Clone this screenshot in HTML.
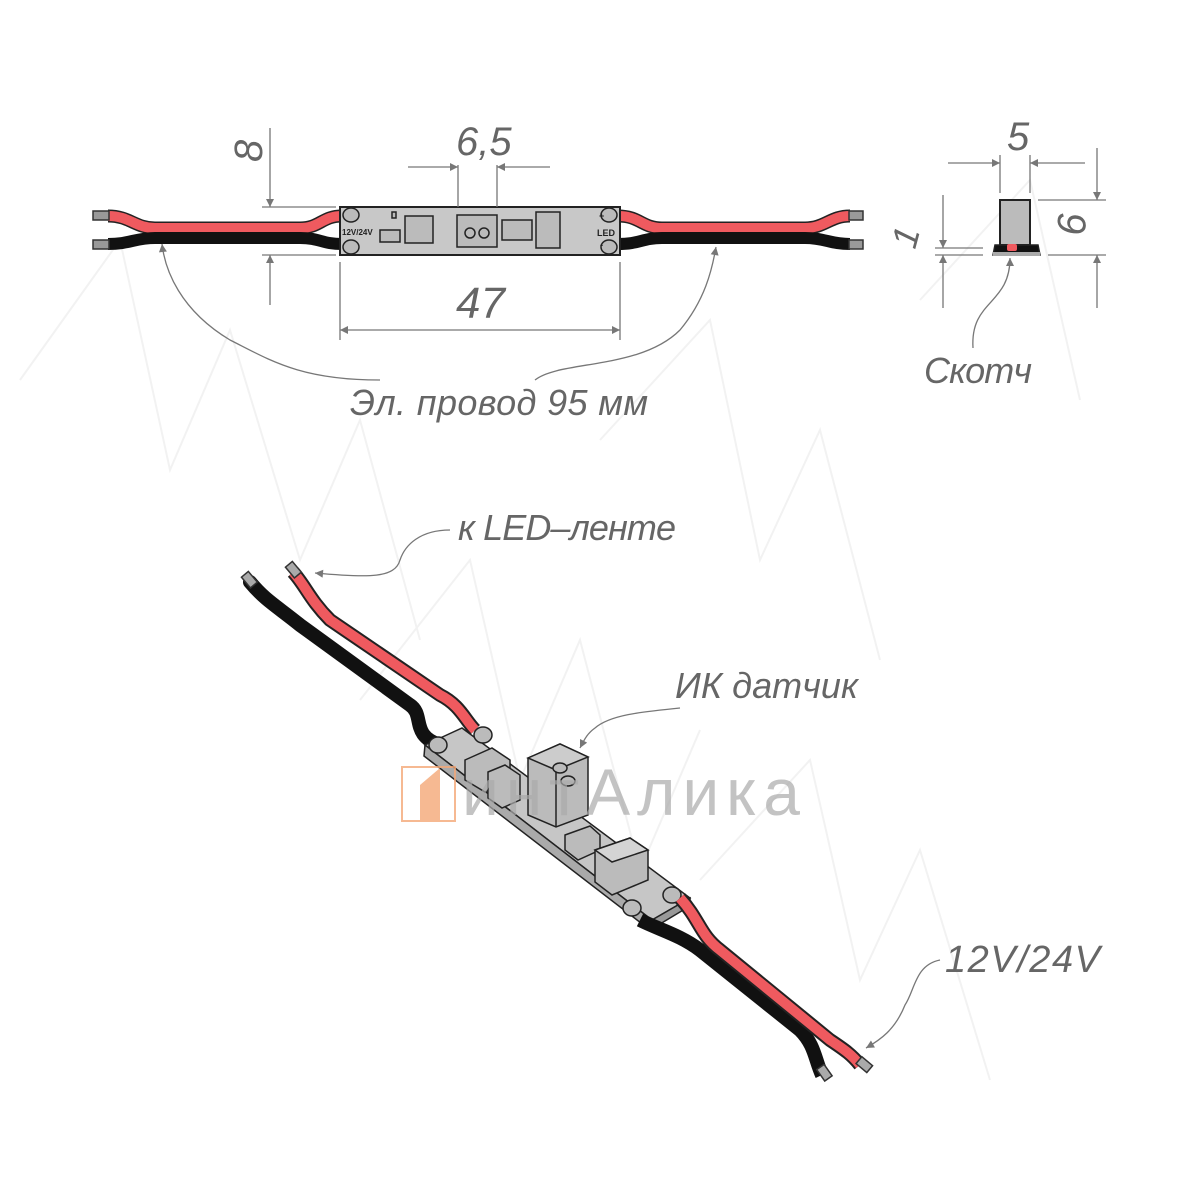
<!DOCTYPE html>
<html><head><meta charset="utf-8"><style>
html,body{margin:0;padding:0;background:#fff;}
svg{display:block;}
text{font-family:"Liberation Sans",sans-serif;font-style:italic;fill:#666;}
</style></head><body>
<svg width="1200" height="1200" viewBox="0 0 1200 1200" xmlns="http://www.w3.org/2000/svg">
<defs>
<marker id="ar" viewBox="0 0 10 10" refX="10" refY="5" markerWidth="14" markerHeight="8" orient="auto-start-reverse" markerUnits="userSpaceOnUse"><path d="M0,0 L10,5 L0,10 z" fill="#777"/></marker>
</defs>
<g stroke="#f2f2f2" stroke-width="2" fill="none">
<path d="M20,380 L120,240 L170,470 L230,330 L300,560 L360,420 L420,640"/>
<path d="M600,440 L710,320 L760,560 L820,430 L880,660"/>
<path d="M360,700 L470,560 L520,780 L580,640 L640,870 L700,730"/>
<path d="M700,880 L810,760 L860,980 L920,850 L990,1080"/>
<path d="M920,300 L1030,180 L1080,400"/>
</g>

<!-- ===== TOP VIEW ===== -->
<path d="M108,216 C130,216 135,228 155,228 L300,228 C320,228 322,216 342,216" stroke="#222" stroke-width="13" fill="none"/>
<path d="M108,216 C130,216 135,228 155,228 L300,228 C320,228 322,216 342,216" stroke="#ef5a5f" stroke-width="10" fill="none"/>
<path d="M108,244 C130,244 135,238 155,238 L300,238 C320,238 322,244 342,244" stroke="#111" stroke-width="12" fill="none"/>
<rect x="93" y="211" width="16" height="9" fill="#999" stroke="#333" stroke-width="1.5"/>
<rect x="93" y="240" width="16" height="9" fill="#999" stroke="#333" stroke-width="1.5"/>
<path d="M618,216 C640,216 642,228 662,228 L805,228 C825,228 830,216 850,216" stroke="#222" stroke-width="13" fill="none"/>
<path d="M618,216 C640,216 642,228 662,228 L805,228 C825,228 830,216 850,216" stroke="#ef5a5f" stroke-width="10" fill="none"/>
<path d="M618,244 C640,244 642,238 662,238 L805,238 C825,238 830,244 850,244" stroke="#111" stroke-width="12" fill="none"/>
<rect x="849" y="211" width="14" height="9" fill="#999" stroke="#333" stroke-width="1.5"/>
<rect x="849" y="240" width="14" height="9" fill="#999" stroke="#333" stroke-width="1.5"/>
<rect x="340" y="207" width="280" height="48" fill="#c8c8c8" stroke="#222" stroke-width="2"/>
<g fill="#bbb" stroke="#222" stroke-width="1.5">
<ellipse cx="351" cy="215" rx="8" ry="7"/><ellipse cx="351" cy="247" rx="8" ry="7"/>
<ellipse cx="609" cy="215" rx="8" ry="7"/><ellipse cx="609" cy="247" rx="8" ry="7"/>
<rect x="380" y="230" width="20" height="12"/><rect x="405" y="216" width="28" height="27"/>
<rect x="392" y="212" width="4" height="6"/>
<rect x="457" y="215" width="40" height="32"/><rect x="502" y="220" width="30" height="20"/>
<rect x="536" y="212" width="24" height="36"/>
<circle cx="470" cy="233" r="5"/><circle cx="484" cy="233" r="5"/>
</g>
<text x="342" y="235" font-size="8" style="font-style:normal;font-weight:bold;fill:#222">12V/24V</text>
<text x="597" y="236" font-size="9" style="font-style:normal;font-weight:bold;fill:#222">LED</text>
<text x="599" y="219" font-size="9" style="font-style:normal;font-weight:bold;fill:#222">+</text>
<text x="600" y="248" font-size="9" style="font-style:normal;font-weight:bold;fill:#222">-</text>
<g stroke="#777" stroke-width="1.3" fill="none">
<line x1="262" y1="207" x2="336" y2="207"/><line x1="262" y1="255" x2="336" y2="255"/>
<line x1="270" y1="128" x2="270" y2="207" marker-end="url(#ar)"/>
<line x1="270" y1="305" x2="270" y2="255" marker-end="url(#ar)"/>
<line x1="458" y1="165" x2="458" y2="207"/><line x1="497" y1="165" x2="497" y2="207"/>
<line x1="408" y1="167" x2="458" y2="167" marker-end="url(#ar)"/>
<line x1="550" y1="167" x2="497" y2="167" marker-end="url(#ar)"/>
<line x1="340" y1="262" x2="340" y2="340"/><line x1="620" y1="262" x2="620" y2="340"/>
<line x1="340" y1="330" x2="620" y2="330" marker-start="url(#ar)" marker-end="url(#ar)"/>
<path d="M380,380 C300,380 270,360 230,340 C180,310 165,270 162,244" marker-end="url(#ar)"/>
<path d="M535,380 C560,360 640,370 680,330 C705,300 712,270 716,247" marker-end="url(#ar)"/>
</g>
<text x="0" y="0" font-size="40" transform="translate(262,162) rotate(-90)">8</text>
<text x="456" y="155" font-size="40">6,5</text>
<text x="456" y="318" font-size="44">47</text>
<text x="350" y="415" font-size="36" textLength="298">Эл. провод 95 мм</text>

<!-- ===== END VIEW ===== -->
<rect x="1000" y="200" width="30" height="45" fill="#bbb" stroke="#222" stroke-width="2"/>
<path d="M993,255 L995,245 L1038,245 L1040,255 Z" fill="#111" stroke="#222" stroke-width="1.5"/>
<rect x="993" y="252" width="47" height="4" fill="#aaa"/>
<rect x="1007" y="244" width="10" height="7" rx="2" fill="#ef5a5f"/>
<g stroke="#777" stroke-width="1.3" fill="none">
<line x1="1000" y1="155" x2="1000" y2="193"/><line x1="1030" y1="155" x2="1030" y2="193"/>
<line x1="948" y1="163" x2="1000" y2="163" marker-end="url(#ar)"/>
<line x1="1085" y1="163" x2="1030" y2="163" marker-end="url(#ar)"/>
<line x1="1038" y1="200" x2="1106" y2="200"/><line x1="1048" y1="255" x2="1106" y2="255"/>
<line x1="1097" y1="148" x2="1097" y2="200" marker-end="url(#ar)"/>
<line x1="1097" y1="308" x2="1097" y2="255" marker-end="url(#ar)"/>
<line x1="935" y1="248" x2="983" y2="248"/><line x1="935" y1="255" x2="983" y2="255"/>
<line x1="943" y1="195" x2="943" y2="248" marker-end="url(#ar)"/>
<line x1="943" y1="308" x2="943" y2="255" marker-end="url(#ar)"/>
<path d="M973,348 C970,300 1010,305 1010,258" marker-end="url(#ar)"/>
</g>
<text x="1007" y="150" font-size="40">5</text>
<text x="0" y="0" font-size="40" transform="translate(1058,212) rotate(90)">9</text>
<text x="0" y="0" font-size="36" transform="translate(915,250) rotate(-75)">1</text>
<text x="924" y="383" font-size="36" textLength="108">Скотч</text>

<!-- ===== 3D VIEW ===== -->
<path d="M250,582 C265,600 275,605 300,625 L410,705 C425,715 410,735 440,745" stroke="#111" stroke-width="14" fill="none" stroke-linecap="round"/>
<path d="M293,572 C305,585 310,600 330,620 L440,695 C460,705 465,720 475,730" stroke="#222" stroke-width="14" fill="none"/>
<path d="M293,572 C305,585 310,600 330,620 L440,695 C460,705 465,720 475,730" stroke="#ef5a5f" stroke-width="10" fill="none"/>
<rect x="242" y="575" width="14" height="9" fill="#aaa" stroke="#333" stroke-width="1.5" transform="rotate(50 249 580)"/>
<rect x="286" y="565" width="14" height="9" fill="#aaa" stroke="#333" stroke-width="1.5" transform="rotate(50 293 570)"/>
<path d="M425,745 L462,728 L690,898 L652,920 Z" fill="#c6c6c6" stroke="#222" stroke-width="1.5"/>
<path d="M425,745 L652,920 L650,930 L424,756 Z" fill="#aaa" stroke="#222" stroke-width="1.5"/>
<path d="M652,920 L690,898 L690,906 L650,930 Z" fill="#999" stroke="#222" stroke-width="1.5"/>
<g fill="#bbb" stroke="#222" stroke-width="1.5">
<ellipse cx="438" cy="745" rx="9" ry="8"/><ellipse cx="483" cy="735" rx="9" ry="8"/>
<ellipse cx="632" cy="908" rx="9" ry="8"/><ellipse cx="672" cy="895" rx="9" ry="8"/>
<path d="M465,760 L492,748 L510,760 L510,780 L485,792 L465,780 Z"/>
<path d="M488,772 L505,765 L520,775 L520,800 L502,808 L488,798 Z"/>
<path d="M565,835 L590,826 L600,835 L600,850 L578,860 L565,850 Z"/>
<path d="M595,850 L630,838 L648,850 L648,880 L612,895 L595,882 Z"/>
<path d="M595,850 L630,838 L648,850 L612,862 Z" fill="#d4d4d4"/>
</g>
<path d="M528,758 L560,744 L588,757 L588,815 L556,827 L528,815 Z" fill="#bbb" stroke="#222" stroke-width="1.5"/>
<path d="M528,758 L560,744 L588,757 L556,770 Z" fill="#ccc" stroke="#222" stroke-width="1.5"/>
<line x1="556" y1="770" x2="556" y2="827" stroke="#222" stroke-width="1.5"/>
<ellipse cx="560" cy="768" rx="7" ry="5" fill="#bbb" stroke="#222" stroke-width="1.5"/>
<ellipse cx="568" cy="781" rx="7" ry="5" fill="#bbb" stroke="#222" stroke-width="1.5"/>
<path d="M640,920 C660,930 680,935 700,950 L800,1030 C815,1045 815,1060 822,1075" stroke="#111" stroke-width="14" fill="none"/>
<path d="M680,898 C700,920 700,935 720,950 L830,1040 C845,1050 852,1055 860,1065" stroke="#222" stroke-width="14" fill="none"/>
<path d="M680,898 C700,920 700,935 720,950 L830,1040 C845,1050 852,1055 860,1065" stroke="#ef5a5f" stroke-width="10" fill="none"/>
<rect x="817" y="1068" width="14" height="9" fill="#aaa" stroke="#333" stroke-width="1.5" transform="rotate(55 824 1073)"/>
<rect x="857" y="1060" width="14" height="9" fill="#aaa" stroke="#333" stroke-width="1.5" transform="rotate(40 864 1065)"/>
<!-- watermark logo over drawing -->
<g opacity="0.8">
<rect x="402" y="767" width="53" height="54" fill="none" stroke="#f5a878" stroke-width="2"/>
<path d="M420,821 L420,785 L440,768 L440,821 Z" fill="#f5a878"/>
</g>
<text x="462" y="815" font-size="66" textLength="338" style="font-style:normal;fill:#aaa;opacity:0.7">интАлика</text>
<g stroke="#777" stroke-width="1.3" fill="none">
<path d="M450,530 C420,530 405,545 400,560 C395,578 370,578 315,573" marker-end="url(#ar)"/>
<path d="M680,708 C640,712 610,715 595,728 C588,733 585,738 580,748" marker-end="url(#ar)"/>
<path d="M940,960 C915,965 915,990 905,1005 C895,1030 880,1040 866,1048" marker-end="url(#ar)"/>
</g>
<text x="458" y="540" font-size="36" textLength="218">к LED–ленте</text>
<text x="675" y="698" font-size="36" textLength="183">ИК датчик</text>
<text x="945" y="972" font-size="38" textLength="155">12V/24V</text>
</svg>
</body></html>
